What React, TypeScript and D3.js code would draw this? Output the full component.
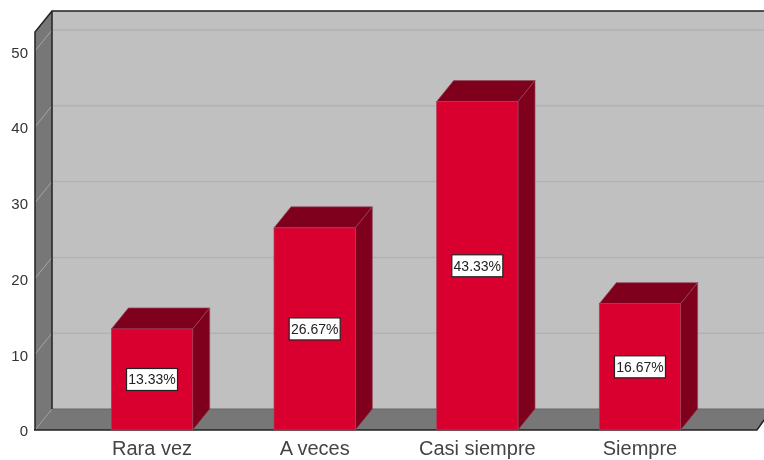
import React from "react";
import * as d3 from "d3";

const categories = ["Rara vez", "A veces", "Casi siempre", "Siempre"];
const values = [13.33, 26.67, 43.33, 16.67];
const labels = ["13.33%", "26.67%", "43.33%", "16.67%"];
const yTicks = [0, 10, 20, 30, 40, 50];

const W = 764, H = 460;
const FONT = "'Liberation Sans', Arial, sans-serif";
const dx = 17, dy = 21;
const x0 = 35, y0 = 430, xEnd = 757, yTopBack = 11;

const y = d3.scaleLinear().domain([0, 50]).range([y0, 51]);
const x = d3.scaleBand<string>().domain(categories).range([70.7, 721.3]).paddingInner(0.5).paddingOuter(0.25);
const path = (pts: [number, number][]) => d3.line()(pts) + "Z";

export default function App() {
  const bw = x.bandwidth();
  return (
    <svg width={W} height={H} viewBox={`0 0 ${W} ${H}`} style={{ position: "absolute", left: 0, top: 0, background: "#fff", filter: "blur(0.4px)" }} fontFamily={FONT}>
      <rect x={x0 + dx} y={yTopBack} width={W - x0 - dx + 2} height={y0 - dy - yTopBack} fill="#c0c0c0" />
      <path d={path([[x0, 32], [x0 + dx, yTopBack], [x0 + dx, y0 - dy], [x0, y0]])} fill="#777777" />
      <path d={path([[x0, y0], [x0 + dx, y0 - dy], [W + 2, y0 - dy], [W + 2, y0 - 11], [xEnd, y0]])} fill="#777777" />
      {yTicks.filter(t => t > 0).map(t => (
        <g key={t}>
          <line x1={x0} x2={x0 + dx} y1={y(t)} y2={y(t) - dy} stroke="#a6a6a6" strokeWidth={1} />
          <line x1={x0 + dx} x2={W} y1={y(t) - dy} y2={y(t) - dy} stroke="#b2b2b2" strokeWidth={1.5} />
        </g>
      ))}
      <line x1={x0} x2={x0 + dx} y1={y0} y2={y0 - dy} stroke="#999" strokeWidth={1} />
      <line x1={x0 + dx} x2={W} y1={y0 - dy} y2={y0 - dy} stroke="#666" strokeWidth={1} />
      <path d={`M${x0},${y0}V32L${x0 + dx},${yTopBack}H${W}`} fill="none" stroke="#222" strokeWidth={1.5} />
      <line x1={x0 + dx} x2={x0 + dx} y1={yTopBack} y2={y0 - dy} stroke="#222" strokeWidth={1.5} />
      <path d={`M${x0 - 1},${y0}H${xEnd}L${W},${y0 - 10}`} fill="none" stroke="#222" strokeWidth={1.5} />
      {categories.map((c, i) => {
        const l = x(c)!, r = l + bw, t = y(values[i]);
        return (
          <g key={c}>
            <path d={path([[l, t], [l + dx, t - dy], [r + dx, t - dy], [r, t]])} fill="#7f001c" stroke="#8f4a5a" strokeWidth={0.7} />
            <path d={path([[r, t], [r + dx, t - dy], [r + dx, y0 - dy], [r, y0]])} fill="#7f001c" stroke="#8f4a5a" strokeWidth={0.7} />
            <rect x={l} y={t} width={bw} height={y0 - t} fill="#d9002f" stroke="#a8405a" strokeWidth={0.7} />
            <rect x={l + bw / 2 - 25.5} y={(t + y0) / 2 - 11} width={51} height={22} fill="#fff" stroke="#222" strokeWidth={1.2} />
            <text x={l + bw / 2} y={(t + y0) / 2 + 5} textAnchor="middle" fontSize={14} fill="#222">{labels[i]}</text>
            <text x={l + bw / 2} y={455} textAnchor="middle" fontSize={20} fill="#444">{c}</text>
          </g>
        );
      })}
      {yTicks.map(t => (
        <text key={t} x={28} y={y(t) + (t === 0 ? 5.5 : 6.5)} textAnchor="end" fontSize={15} fill="#333">{t}</text>
      ))}
    </svg>
  );
}
